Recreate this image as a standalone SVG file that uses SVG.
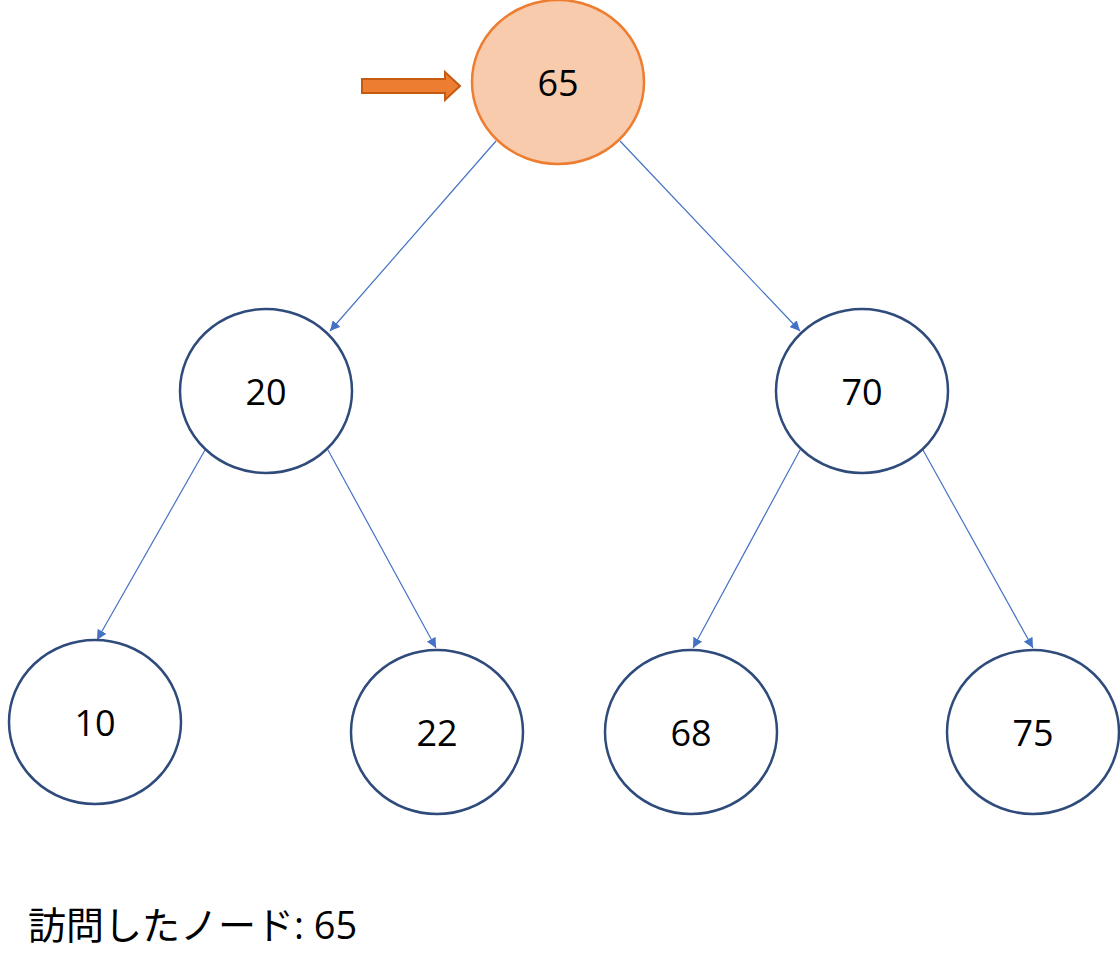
<svg xmlns="http://www.w3.org/2000/svg" width="1120" height="960" viewBox="0 0 1120 960">
<style>
.n{fill:#fff;stroke:#2f4b7c;stroke-width:2.5}
.t{font-family:"Open Sans","Liberation Sans",sans-serif;font-size:36px;text-anchor:middle;dominant-baseline:central;fill:#000}
.e{stroke:#4472c4;stroke-width:1.2;fill:none;marker-end:url(#a)}
</style>
<defs><marker id="a" viewBox="0 0 10 10" refX="10" refY="5" markerWidth="10" markerHeight="10" markerUnits="userSpaceOnUse" orient="auto"><path d="M0,0L10,5L0,10z" fill="#4472c4"/></marker></defs>
<rect width="1120" height="960" fill="#fff"/>
<g id="connectors">
<line class="e" x1="496" y1="141" x2="330" y2="331"/>
<line class="e" x1="620" y1="141" x2="800" y2="331"/>
<line class="e" x1="205" y1="450" x2="97" y2="640"/>
<line class="e" x1="328" y1="450" x2="436" y2="648"/>
<line class="e" x1="800" y1="450" x2="693" y2="648"/>
<line class="e" x1="923" y1="450" x2="1033" y2="648"/>
</g>
<g id="pointer"><path d="M362,79H445V72L460,86L445,100V93H362Z" fill="#ed7d31" stroke="#c55a11" stroke-width="2"/></g>
<g id="n65"><ellipse cx="558" cy="82" rx="86" ry="82" fill="#f8cbad" stroke="#ed7d31" stroke-width="2.5"/><text class="t" x="558" y="82">65</text></g>
<g id="n20"><ellipse class="n" cx="266" cy="391" rx="86" ry="82"/><text class="t" x="266" y="391">20</text></g>
<g id="n70"><ellipse class="n" cx="862" cy="391" rx="86" ry="82"/><text class="t" x="862" y="391">70</text></g>
<g id="n10"><ellipse class="n" cx="95" cy="722" rx="86" ry="82"/><text class="t" x="95" y="722">10</text></g>
<g id="n22"><ellipse class="n" cx="437" cy="732" rx="86" ry="82"/><text class="t" x="437" y="732">22</text></g>
<g id="n68"><ellipse class="n" cx="691" cy="732" rx="86" ry="82"/><text class="t" x="691" y="732">68</text></g>
<g id="n75"><ellipse class="n" cx="1033" cy="732" rx="86" ry="82"/><text class="t" x="1033" y="732">75</text></g>
<text x="28" y="924" font-family="'Open Sans','Noto Sans CJK JP',sans-serif" font-size="38" fill="#000" dominant-baseline="central">訪問したノード: 65</text>
</svg>
